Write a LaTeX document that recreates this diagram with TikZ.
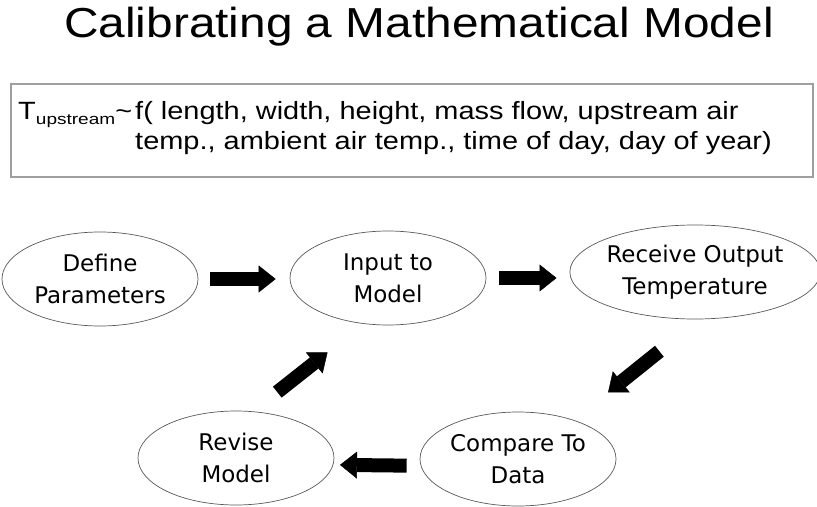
\documentclass[tikz,border=0pt]{standalone}
\usepackage{fontspec}
\setmainfont{Liberation Sans}
\newfontfamily\titlefont[FakeStretch=1.14]{Liberation Sans}
\newfontfamily\formfont[FakeStretch=1.16]{Liberation Sans}
\newfontfamily\subfont[FakeStretch=1.25]{Liberation Sans}
\newfontfamily\stepfont{DejaVu Sans}
\usepackage{graphicx}
\usetikzlibrary{arrows.meta, shapes.geometric}

\tikzset{
  stage/.style={ellipse, draw=black!65, line width=0.6pt, inner sep=0pt,
    minimum width=5.88cm, minimum height=2.82cm, align=center,
    font=\stepfont\fontsize{19.6}{27.3}\selectfont},
  bigarrow/.style={-{Triangle[length=0.51cm, width=0.81cm, line width=0.4pt]},
    line width=0.42cm}
}

\begin{document}
\begin{tikzpicture}[x=0.03cm, y=-0.03cm]
\useasboundingbox (0,0) rectangle (817,506);

% ---------- title ----------
\node[anchor=base, font=\titlefont\fontsize{35.8}{40}\selectfont] (title)
  at (419,38) {Calibrating a Mathematical Model};

% ---------- model formula ----------
\node[draw=gray!75, line width=1.4pt, anchor=north west,
  minimum width=24.06cm, minimum height=2.79cm] (fbox) at (10,83) {};
\node[anchor=base west, inner sep=0pt, font=\formfont\fontsize{21.3}{26.4}\selectfont]
  (ftext) at (18,119) {%
  \begin{tabular}[t]{@{}l@{}l@{}}
  \makebox[3.51cm][l]{T\raisebox{-5pt}{\subfont\fontsize{13}{13}\selectfont upstream}\textasciitilde}
    & f( length, width, height, mass flow, upstream air\\
    & temp., ambient air temp., time of day, day of year)
  \end{tabular}};

% ---------- calibration loop ----------
\node[stage] (define)  at (100,279) {Define\\Parameters};
\node[stage] (input)   at (388,278) {Input to\\Model};
\node[stage, minimum width=7.02cm] (receive) at (695,272) {Receive Output\\Temperature};
\node[stage] (compare) at (518,459) {Compare To\\Data};
\node[stage] (revise)  at (236,458) {Revise\\Model};

% ---------- block arrows ----------
\draw[bigarrow, shorten <=0.36cm, shorten >=0.42cm] (define.east) -- (define.east -| input.west);
\draw[bigarrow, shorten <=0.39cm, shorten >=0.39cm] (input.east) -- (input.east -| receive.west);
\draw[bigarrow, shorten <=1.53cm, shorten >=1.32cm] (receive.-85) -- (compare.35);
\draw[bigarrow, shorten <=0.42cm, shorten >=0.2cm] (compare.184) -- (revise.-4);
\draw[bigarrow, shorten <=0.93cm, shorten >=1.38cm] (revise.70) -- (input.-118);

\end{tikzpicture}
\end{document}
